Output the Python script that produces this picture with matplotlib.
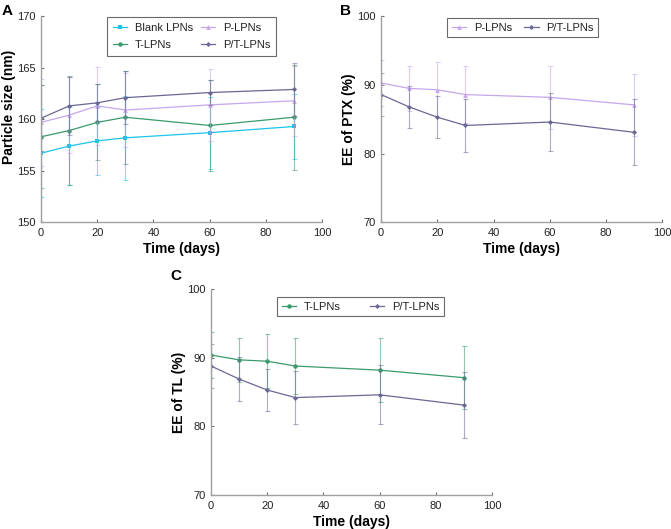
import matplotlib
matplotlib.use("Agg")
import matplotlib.pyplot as plt
from matplotlib.lines import Line2D

plt.rcParams['font.family'] = ['Liberation Sans', 'DejaVu Sans']

days = [0, 10, 20, 30, 60, 90]

# Panel A - particle size (nm)
size_blank = [156.7, 157.4, 157.9, 158.2, 158.7, 159.3]
size_blank_err = [4.3, 3.8, 3.3, 4.1, 3.5, 3.2]
size_t = [158.3, 158.9, 159.7, 160.2, 159.4, 160.2]
size_t_err = [5.0, 5.3, 3.7, 4.5, 4.4, 5.1]
size_p = [159.7, 160.4, 161.3, 160.9, 161.4, 161.8]
size_p_err = [4.2, 3.7, 3.8, 3.6, 3.5, 3.4]
size_pt = [160.1, 161.3, 161.6, 162.1, 162.6, 162.9]
size_pt_err = [3.2, 2.8, 1.8, 2.6, 1.2, 2.6]

# Panel B - EE of PTX (%)
eeptx_p = [90.3, 89.5, 89.3, 88.6, 88.2, 87.1]
eeptx_p_err = [3.3, 3.3, 4.0, 4.2, 4.6, 4.5]
eeptx_pt = [88.6, 86.8, 85.3, 84.1, 84.6, 83.1]
eeptx_pt_err = [3.1, 3.1, 3.1, 3.9, 4.2, 4.8]

# Panel C - EE of TL (%)
eetl_t = [90.4, 89.7, 89.5, 88.8, 88.2, 87.1]
eetl_t_err = [3.3, 3.2, 3.9, 4.1, 4.7, 4.6]
eetl_pt = [88.8, 86.9, 85.3, 84.2, 84.6, 83.1]
eetl_pt_err = [3.2, 3.2, 3.1, 3.9, 4.3, 4.8]

C_BLANK = '#1cc4ec'
C_T = '#3a9a6c'
C_P = '#c6a6ec'
C_PT = '#6a6894'
AXIS_GRAY = '#a0a0a0'

fig = plt.figure(figsize=(6.71, 5.29), dpi=100)


def style_axes(ax, ylim, yticks, ylabel, label_y=0.5):
    ax.set_xlim(0, 100)
    ax.set_ylim(*ylim)
    ax.set_xticks([0, 20, 40, 60, 80, 100])
    ax.set_yticks(yticks)
    for side in ['top', 'right']:
        ax.spines[side].set_visible(False)
    for side in ['left', 'bottom']:
        ax.spines[side].set_color(AXIS_GRAY)
        ax.spines[side].set_linewidth(1.0)
    ax.tick_params(direction='in', length=2, width=0.8, color='#707070',
                   labelsize=8, labelcolor='#222222', pad=4)
    ax.set_xlabel('Time (days)', fontsize=10, fontweight='bold', labelpad=3)
    ax.set_ylabel(ylabel, fontsize=10, fontweight='bold')
    # anchor is the right edge of the rotated label
    ax.yaxis.set_label_coords(-0.088, label_y)


def series(ax, y, err, color, marker, ms):
    ax.errorbar(days, y, yerr=err, fmt='none', ecolor=color, elinewidth=0.8,
                capsize=1.8, capthick=0.8, alpha=0.55)
    ax.plot(days, y, color=color, marker=marker, ms=ms, lw=0.9,
            markeredgewidth=0)


def handle(color, marker, ms):
    return Line2D([], [], color=color, marker=marker, ms=ms, lw=0.9,
                  markeredgewidth=0)


def legend(ax, handles, labels, corner, colspace, borderpad, labelspacing):
    leg = ax.legend(handles, labels, loc='upper left', bbox_to_anchor=corner,
                    ncol=2, fontsize=8, frameon=True, fancybox=False,
                    borderpad=borderpad, handlelength=1.3, handletextpad=0.7,
                    columnspacing=colspace, labelspacing=labelspacing,
                    borderaxespad=0)
    leg.get_frame().set_edgecolor('#444444')
    leg.get_frame().set_linewidth(0.8)
    for t in leg.get_texts():
        t.set_color('#222222')


# --- A ---
axA = fig.add_axes([0.0611, 0.580, 0.419, 0.389])
series(axA, size_blank, size_blank_err, C_BLANK, 's', 3.2)
series(axA, size_t, size_t_err, C_T, 'o', 3.2)
series(axA, size_p, size_p_err, C_P, '^', 3.4)
series(axA, size_pt, size_pt_err, C_PT, 'D', 2.6)
style_axes(axA, (150, 170), [150, 155, 160, 165, 170], 'Particle size (nm)', 0.56)
legend(axA,
       [handle(C_BLANK, 's', 3.2), handle(C_T, 'o', 3.2),
        handle(C_P, '^', 3.4), handle(C_PT, 'D', 2.6)],
       ['Blank LPNs', 'T-LPNs', 'P-LPNs', 'P/T-LPNs'],
       (0.235, 0.995), 0.7, 0.5, 0.65)
fig.text(0.002, 0.992, 'A', fontsize=11, fontweight='bold', va='top', ha='left')

# --- B ---
axB = fig.add_axes([0.568, 0.580, 0.419, 0.389])
series(axB, eeptx_p, eeptx_p_err, C_P, '^', 3.4)
series(axB, eeptx_pt, eeptx_pt_err, C_PT, 'D', 2.6)
style_axes(axB, (70, 100), [70, 80, 90, 100], 'EE of PTX (%)')
legend(axB, [handle(C_P, '^', 3.4), handle(C_PT, 'D', 2.6)],
       ['P-LPNs', 'P/T-LPNs'], (0.235, 0.99), 1.1, 0.4, 0.5)
fig.text(0.506, 0.992, 'B', fontsize=11, fontweight='bold', va='top', ha='left')

# --- C ---
axC = fig.add_axes([0.3145, 0.0643, 0.419, 0.389])
series(axC, eetl_t, eetl_t_err, C_T, 'o', 3.2)
series(axC, eetl_pt, eetl_pt_err, C_PT, 'D', 2.6)
style_axes(axC, (70, 100), [70, 80, 90, 100], 'EE of TL (%)')
legend(axC, [handle(C_T, 'o', 3.2), handle(C_PT, 'D', 2.6)],
       ['T-LPNs', 'P/T-LPNs'], (0.235, 0.961), 2.6, 0.4, 0.5)
fig.text(0.254, 0.492, 'C', fontsize=11, fontweight='bold', va='top', ha='left')

fig.savefig('out.png', dpi=100)
